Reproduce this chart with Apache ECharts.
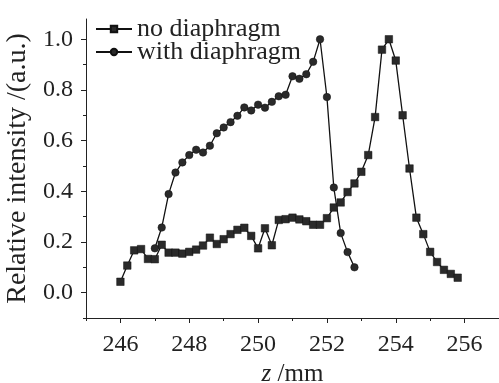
<!DOCTYPE html>
<html>
<head>
<meta charset="utf-8">
<script src="https://cdn.jsdelivr.net/npm/echarts@6/dist/echarts.min.js"></script>
<style>
  html, body { margin: 0; padding: 0; background: #fff; }
  #chart { width: 499px; height: 383px; }
</style>
</head>
<body>
<div id="chart"></div>
<script>
// 数据: z 位置 (mm) 与相对强度
var zNo = [246.0, 246.2, 246.4, 246.6, 246.8, 247.0, 247.2, 247.4, 247.6, 247.8,
           248.0, 248.2, 248.4, 248.6, 248.8, 249.0, 249.2, 249.4, 249.6, 249.8,
           250.0, 250.2, 250.4, 250.6, 250.8, 251.0, 251.2, 251.4, 251.6, 251.8,
           252.0, 252.2, 252.4, 252.6, 252.8, 253.0, 253.2, 253.4, 253.6, 253.8,
           254.0, 254.2, 254.4, 254.6, 254.8, 255.0, 255.2, 255.4, 255.6, 255.8];
var intNo = [0.043, 0.107, 0.167, 0.172, 0.133, 0.132, 0.189, 0.158, 0.158, 0.154,
             0.161, 0.170, 0.186, 0.217, 0.192, 0.211, 0.231, 0.248, 0.256, 0.224,
             0.175, 0.254, 0.187, 0.287, 0.290, 0.296, 0.289, 0.282, 0.268, 0.268,
             0.294, 0.336, 0.356, 0.397, 0.431, 0.477, 0.543, 0.693, 0.959, 1.000,
             0.916, 0.700, 0.490, 0.296, 0.231, 0.161, 0.121, 0.090, 0.074, 0.059];

var zWith = [247.0, 247.2, 247.4, 247.6, 247.8, 248.0, 248.2, 248.4, 248.6, 248.8,
             249.0, 249.2, 249.4, 249.6, 249.8, 250.0, 250.2, 250.4, 250.6, 250.8,
             251.0, 251.2, 251.4, 251.6, 251.8, 252.0, 252.2, 252.4, 252.6, 252.8];
var intWith = [0.175, 0.257, 0.389, 0.474, 0.514, 0.543, 0.564, 0.553, 0.580, 0.629,
               0.652, 0.673, 0.698, 0.731, 0.719, 0.742, 0.730, 0.753, 0.775, 0.781,
               0.854, 0.844, 0.862, 0.911, 1.000, 0.772, 0.415, 0.235, 0.160, 0.100];

var xTicks = [246, 248, 250, 252, 254, 256];
var xMinor = [245, 247, 249, 251, 253, 255, 257];
var yTicks = [0, 0.2, 0.4, 0.6, 0.8, 1.0];
var yMinor = [-0.1, 0.1, 0.3, 0.5, 0.7, 0.9];

var serif = '"Liberation Serif", "Times New Roman", serif';

function pairs(xs, ys) {
    var out = [];
    for (var i = 0; i < xs.length; i++) {
        out.push([xs[i], ys[i]]);
    }
    return out;
}

var myChart = echarts.init(document.getElementById('chart'));

var axisLine = { show: true, onZero: false, lineStyle: { color: '#222', width: 1 } };
var noLine = { show: false, onZero: false };

var option = {
    animation: false,
    backgroundColor: '#fff',
    grid: { left: 86, right: 0, top: 19, bottom: 65, outerBoundsMode: 'none', containLabel: false },
    legend: {
        left: 90,
        top: 11,
        orient: 'vertical',
        itemGap: -3,
        itemWidth: 36,
        itemHeight: 8,
        textStyle: { fontFamily: serif, fontSize: 26, color: '#222' },
        data: ['no diaphragm', 'with diaphragm']
    },
    xAxis: [
        {
            type: 'value',
            min: 245,
            max: 257,
            axisLine: axisLine,
            splitLine: { show: false },
            axisTick: { show: true, customValues: xTicks, length: 5, lineStyle: { color: '#222' } },
            axisLabel: {
                customValues: xTicks,
                margin: 15,
                fontFamily: serif,
                fontSize: 24,
                color: '#222'
            },
            name: '{i|z} /mm',
            nameLocation: 'middle',
            nameGap: 42,
            nameTextStyle: {
                fontFamily: serif,
                fontSize: 25,
                color: '#222',
                rich: {
                    i: { fontFamily: serif, fontSize: 25, fontStyle: 'italic', color: '#222' }
                }
            }
        },
        {
            type: 'value',
            min: 245,
            max: 257,
            position: 'bottom',
            axisLine: noLine,
            splitLine: { show: false },
            axisTick: { show: true, customValues: xMinor, length: 3, lineStyle: { color: '#222' } },
            axisLabel: { show: false }
        }
    ],
    yAxis: [
        {
            type: 'value',
            min: -0.1,
            max: 1.08,
            axisLine: axisLine,
            splitLine: { show: false },
            axisTick: { show: true, customValues: yTicks, length: 5, lineStyle: { color: '#222' } },
            axisLabel: {
                customValues: yTicks,
                margin: 13,
                fontFamily: serif,
                fontSize: 24,
                color: '#222',
                formatter: function (v) { return v.toFixed(1); }
            },
            name: 'Relative intensity /(a.u.)',
            nameLocation: 'middle',
            nameGap: 45,
            nameTextStyle: { fontFamily: serif, fontSize: 28, color: '#222' }
        },
        {
            type: 'value',
            min: -0.1,
            max: 1.08,
            position: 'left',
            axisLine: noLine,
            splitLine: { show: false },
            axisTick: { show: true, customValues: yMinor, length: 3, lineStyle: { color: '#222' } },
            axisLabel: { show: false }
        }
    ],
    series: [
        {
            name: 'no diaphragm',
            type: 'line',
            data: pairs(zNo, intNo),
            symbol: 'rect',
            symbolSize: 7.5,
            itemStyle: { color: '#2a2a2a', borderColor: '#111', borderWidth: 0.5 },
            lineStyle: { color: '#111', width: 1.3 }
        },
        {
            name: 'with diaphragm',
            type: 'line',
            data: pairs(zWith, intWith),
            symbol: 'circle',
            symbolSize: 7.5,
            itemStyle: { color: '#2a2a2a', borderColor: '#111', borderWidth: 0.5 },
            lineStyle: { color: '#111', width: 1.3 }
        }
    ]
};

myChart.setOption(option);
</script>
</body>
</html>
